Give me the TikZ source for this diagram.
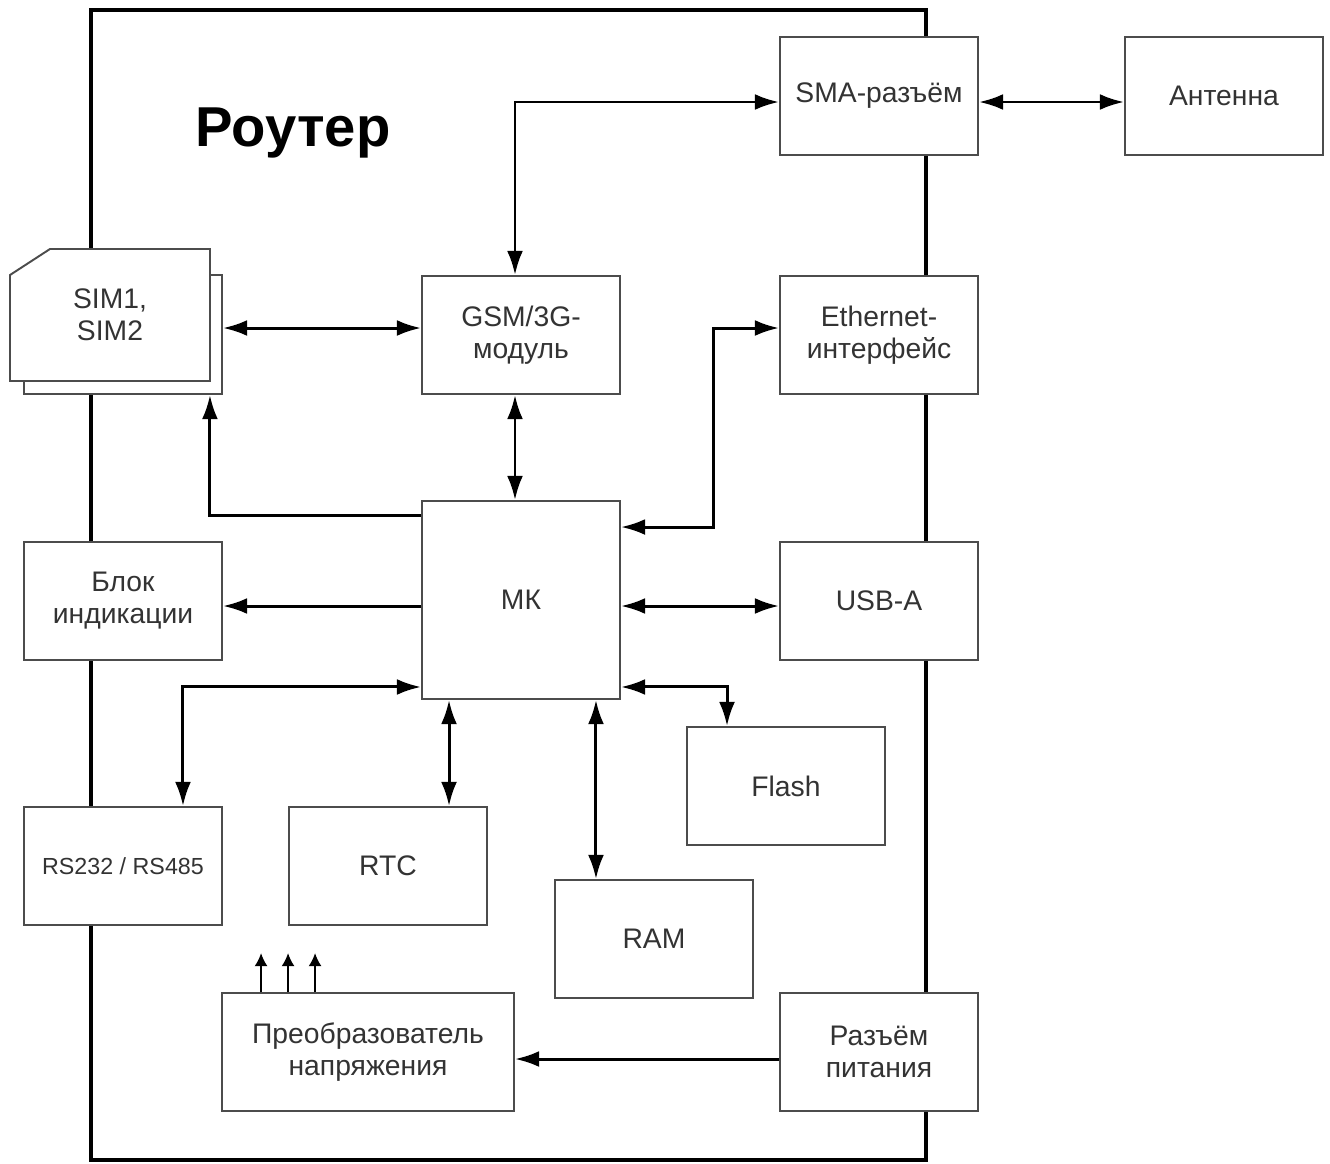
\documentclass[tikz,border=0pt]{standalone}
\usepackage{fontspec}
\setmainfont{Liberation Sans}
\usetikzlibrary{arrows.meta,positioning}

\tikzset{
  blok/.style={draw=black!70, fill=white, line width=1.1pt, minimum width=3.96cm, minimum height=2.36cm,
    inner sep=0pt, align=center, text=black!80, font=\fontsize{16.1}{18.2}\selectfont},
  svyaz/.style={line width=1.7pt, -{Latex[length=13.7pt,width=9pt]}},
  dvsvyaz/.style={line width=1.7pt, {Latex[length=13.7pt,width=9pt]}-{Latex[length=13.7pt,width=9pt]}},
  malsvyaz/.style={line width=1.1pt, -{Latex[length=7.5pt,width=7.5pt]}},
}

\begin{document}
\begin{tikzpicture}[x=0.02cm, y=-0.02cm]

	\useasboundingbox (0,0) rectangle (1330,1164);

	% корпус роутера
	\draw[line width=2.3pt] (91,10) rectangle (926,1160);
	\node[font=\bfseries\fontsize{32}{38}\selectfont, anchor=base] (nazv) at (293,146) {Роутер};

	% SIM-карты
	\node[blok, minimum width=3.96cm, minimum height=2.38cm] (simb) at (123,334.5) {};
	\draw[draw=black!70, fill=white, line width=1.1pt] (10,275) -- (50,249) -- (210,249) -- (210,381) -- (10,381) -- cycle;
	\node[align=center, text=black!80, font=\fontsize{16.1}{18.2}\selectfont] (sim) at (110,315) {SIM1,\\SIM2};

	\node[blok] (sma) at (879,96) {SMA-разъём};
	\node[blok] (ant) at (1224,96) {Антенна};
	\node[blok] (gsm) at (521,335) {GSM/3G-\\модуль};
	\node[blok] (eth) at (879,335) {Ethernet-\\интерфейс};
	\node[blok, minimum height=3.96cm] (mk) at (521,600) {МК};
	\node[blok] (ind) at (123,601) {Блок\\индикации};
	\node[blok] (usb) at (879,601) {USB-A};
	\node[blok] (flash) at (786,786) {Flash};
	\node[blok, font=\fontsize{13.25}{15}\selectfont] (rs) at (123,866) {RS232 / RS485};
	\node[blok] (rtc) at (388,866) {RTC};
	\node[blok] (ram) at (654,939) {RAM};
	\node[blok, minimum width=5.84cm] (conv) at (368,1052) {Преобразователь\\напряжения};
	\node[blok] (pwr) at (879,1052) {Разъём\\питания};

	% связи
	\draw[dvsvyaz] ([xshift=-0.12cm]gsm.north) |- ([yshift=-0.12cm]sma.west);
	\draw[dvsvyaz] ([yshift=-0.12cm]sma.east) -- ([yshift=-0.12cm]ant.west);
	\draw[dvsvyaz] ([yshift=0.14cm]gsm.west -| simb.east) -- ([yshift=0.14cm]gsm.west);
	\draw[dvsvyaz] ([xshift=-0.12cm]gsm.south) -- ([xshift=-0.12cm]mk.north);
	\draw[svyaz] ([yshift=1.7cm]mk.west) -| ([xshift=-0.26cm]simb.south east);
	\draw[dvsvyaz] ([yshift=1.46cm]mk.east) -- ++(93,0) |- ([yshift=0.14cm]eth.west);
	\draw[svyaz] ([yshift=-0.12cm]mk.west) -- ([yshift=-0.12cm]mk.west -| ind.east);
	\draw[dvsvyaz] ([yshift=-0.12cm]mk.east) -- ([yshift=-0.12cm]mk.east -| usb.west);
	\draw[dvsvyaz] ([yshift=-1.74cm]mk.east) -| ([xshift=-1.18cm]flash.north);
	\draw[dvsvyaz] ([yshift=-1.74cm]mk.west) -| ([xshift=1.2cm]rs.north);
	\draw[dvsvyaz] ([xshift=-1.44cm]mk.south) -- ([xshift=-1.44cm]mk.south |- rtc.north);
	\draw[dvsvyaz] ([xshift=1.5cm]mk.south) -- ([xshift=1.5cm]mk.south |- ram.north);
	\draw[svyaz] ([yshift=-0.14cm]pwr.west) -- ([yshift=-0.14cm]pwr.west -| conv.east);

	% выходы преобразователя
	\foreach \dx [count=\i] in {40,67,94} {
		\coordinate (out\i) at ([xshift=\dx*0.02cm, yshift=0.78cm]conv.north west);
		\draw[malsvyaz] ([xshift=\dx*0.02cm]conv.north west) -- (out\i);
	}

\end{tikzpicture}
\end{document}
